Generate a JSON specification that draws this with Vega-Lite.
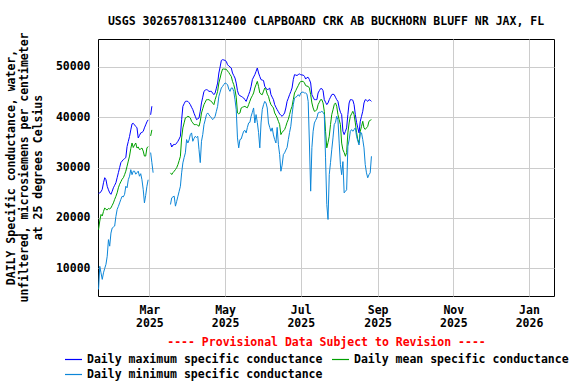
{
  "$schema": "https://vega.github.io/schema/vega-lite/v6.json",
  "width": 456,
  "height": 257,
  "autosize": "none",
  "padding": {"left": 98, "top": 39, "right": 22, "bottom": 88},
  "background": "white",
  "title": {
    "text": "USGS 302657081312400 CLAPBOARD CRK AB BUCKHORN BLUFF NR JAX, FL",
    "font": "DejaVu Sans Mono",
    "fontSize": 11.5,
    "fontWeight": "bold",
    "color": "black",
    "anchor": "middle",
    "frame": "group",
    "baseline": "alphabetic",
    "offset": 15,
    "dy": 20
  },
  "config": {
    "view": {"stroke": "black", "strokeWidth": 1},
    "axis": {
      "grid": true,
      "gridColor": "#cccccc",
      "gridWidth": 1,
      "domain": false,
      "ticks": false,
      "labelFont": "DejaVu Sans Mono",
      "labelFontSize": 11.5,
      "labelFontWeight": "bold",
      "labelColor": "black",
      "titleFont": "DejaVu Sans Mono",
      "titleFontSize": 11.5,
      "titleFontWeight": "bold",
      "titleColor": "black"
    },
    "legend": {
      "labelFont": "DejaVu Sans Mono",
      "labelFontSize": 11.5,
      "labelFontWeight": "bold",
      "labelColor": "black"
    }
  },
  "data": {
    "values": [
      {"d":"2025-01-19","max":24900,"mean":17700,"min":5800},
      {"d":"2025-01-20","max":25000,"mean":19400,"min":10400},
      {"d":"2025-01-21","max":25200,"mean":20700,"min":9100},
      {"d":"2025-01-22","max":25700,"mean":20400,"min":7800},
      {"d":"2025-01-23","max":27000,"mean":21300,"min":9100},
      {"d":"2025-01-24","max":28000,"mean":22000,"min":10000},
      {"d":"2025-01-25","max":27600,"mean":21700,"min":10800},
      {"d":"2025-01-26","max":26300,"mean":21600,"min":12400},
      {"d":"2025-01-27","max":25600,"mean":21900,"min":15700},
      {"d":"2025-01-28","max":25000,"mean":21800,"min":14400},
      {"d":"2025-01-29","max":24700,"mean":22000,"min":17000},
      {"d":"2025-01-30","max":25300,"mean":22500,"min":18000},
      {"d":"2025-01-31","max":26000,"mean":23000,"min":18200},
      {"d":"2025-02-01","max":26500,"mean":23700,"min":18400},
      {"d":"2025-02-02","max":27000,"mean":24300,"min":20300},
      {"d":"2025-02-03","max":28000,"mean":25000,"min":21700},
      {"d":"2025-02-04","max":29000,"mean":26000,"min":22300},
      {"d":"2025-02-05","max":30000,"mean":26700,"min":23000},
      {"d":"2025-02-06","max":31000,"mean":27200,"min":23700},
      {"d":"2025-02-07","max":31300,"mean":27700,"min":24300},
      {"d":"2025-02-08","max":31600,"mean":28000,"min":24200},
      {"d":"2025-02-09","max":31800,"mean":28600,"min":24700},
      {"d":"2025-02-10","max":32000,"mean":29300,"min":26300},
      {"d":"2025-02-11","max":34200,"mean":30300,"min":26000},
      {"d":"2025-02-12","max":35200,"mean":31300,"min":27600},
      {"d":"2025-02-13","max":36200,"mean":32300,"min":28300},
      {"d":"2025-02-14","max":37500,"mean":33800,"min":29600},
      {"d":"2025-02-15","max":38700,"mean":34900,"min":28600},
      {"d":"2025-02-16","max":38800,"mean":34000,"min":29300},
      {"d":"2025-02-17","max":38500,"mean":34500,"min":29300},
      {"d":"2025-02-18","max":38200,"mean":34900,"min":28700},
      {"d":"2025-02-19","max":37900,"mean":33900,"min":29000},
      {"d":"2025-02-20","max":35900,"mean":34100,"min":29300},
      {"d":"2025-02-21","max":36400,"mean":33600,"min":28300},
      {"d":"2025-02-22","max":36900,"mean":33700,"min":28800},
      {"d":"2025-02-23","max":37000,"mean":33900,"min":27600},
      {"d":"2025-02-24","max":37200,"mean":33300,"min":25700},
      {"d":"2025-02-25","max":37900,"mean":32300,"min":23000},
      {"d":"2025-02-26","max":38500,"mean":32300,"min":24500},
      {"d":"2025-02-27","max":39100,"mean":33900,"min":26300},
      {"d":"2025-02-28","max":39500,"mean":34200,"min":27600},
      {"d":"2025-03-01","max":null,"mean":null,"min":null},
      {"d":"2025-03-02","max":40500,"mean":36300,"min":33000},
      {"d":"2025-03-03","max":42200,"mean":37500,"min":31000},
      {"d":"2025-03-04","max":null,"mean":null,"min":29000},
      {"d":"2025-03-05","max":null,"mean":null,"min":null},
      {"d":"2025-03-08","max":36000,"mean":33150,"min":25650},
      {"d":"2025-03-09","max":null,"mean":null,"min":null},
      {"d":"2025-03-18","max":34900,"mean":28970,"min":22680},
      {"d":"2025-03-19","max":34100,"mean":28630,"min":24000},
      {"d":"2025-03-20","max":34500,"mean":29000,"min":24200},
      {"d":"2025-03-21","max":34600,"mean":29300,"min":24330},
      {"d":"2025-03-22","max":34600,"mean":29620,"min":22350},
      {"d":"2025-03-23","max":34900,"mean":30000,"min":23300},
      {"d":"2025-03-24","max":35240,"mean":30610,"min":24330},
      {"d":"2025-03-25","max":35700,"mean":31400,"min":25300},
      {"d":"2025-03-26","max":36230,"mean":32260,"min":26310},
      {"d":"2025-03-27","max":39540,"mean":35910,"min":28970},
      {"d":"2025-03-28","max":42180,"mean":37900,"min":30950},
      {"d":"2025-03-29","max":42700,"mean":38900,"min":32000},
      {"d":"2025-03-30","max":43170,"mean":39880,"min":32940},
      {"d":"2025-03-31","max":43200,"mean":40000,"min":35580},
      {"d":"2025-04-01","max":43170,"mean":40200,"min":34900},
      {"d":"2025-04-02","max":42900,"mean":40100,"min":35500},
      {"d":"2025-04-03","max":42520,"mean":39880,"min":36570},
      {"d":"2025-04-04","max":42000,"mean":39210,"min":36900},
      {"d":"2025-04-05","max":41530,"mean":38900,"min":35240},
      {"d":"2025-04-06","max":40800,"mean":38550,"min":35800},
      {"d":"2025-04-07","max":40200,"mean":38550,"min":36230},
      {"d":"2025-04-08","max":39540,"mean":38550,"min":36000},
      {"d":"2025-04-09","max":39700,"mean":38400,"min":36230},
      {"d":"2025-04-10","max":39870,"mean":38220,"min":33590},
      {"d":"2025-04-11","max":41190,"mean":39210,"min":31000},
      {"d":"2025-04-12","max":42860,"mean":40870,"min":35240},
      {"d":"2025-04-13","max":44000,"mean":41700,"min":36570},
      {"d":"2025-04-14","max":45160,"mean":42520,"min":38550},
      {"d":"2025-04-15","max":45400,"mean":43000,"min":39500},
      {"d":"2025-04-16","max":45500,"mean":43510,"min":40540},
      {"d":"2025-04-17","max":45400,"mean":43510,"min":40870},
      {"d":"2025-04-18","max":45160,"mean":43510,"min":40500},
      {"d":"2025-04-19","max":45160,"mean":43300,"min":40200},
      {"d":"2025-04-20","max":45160,"mean":43180,"min":39900},
      {"d":"2025-04-21","max":44800,"mean":42800,"min":39540},
      {"d":"2025-04-22","max":44500,"mean":42520,"min":39800},
      {"d":"2025-04-23","max":44840,"mean":43510,"min":40200},
      {"d":"2025-04-24","max":45800,"mean":44300,"min":41200},
      {"d":"2025-04-25","max":46800,"mean":45160,"min":42180},
      {"d":"2025-04-26","max":48800,"mean":46830,"min":44170},
      {"d":"2025-04-27","max":50000,"mean":47800,"min":45000},
      {"d":"2025-04-28","max":51300,"mean":48810,"min":45830},
      {"d":"2025-04-29","max":51450,"mean":49600,"min":46150},
      {"d":"2025-04-30","max":51400,"mean":49600,"min":46500},
      {"d":"2025-05-01","max":51300,"mean":49550,"min":46830},
      {"d":"2025-05-02","max":51100,"mean":49550,"min":46700},
      {"d":"2025-05-03","max":50450,"mean":49200,"min":46500},
      {"d":"2025-05-04","max":50200,"mean":48900,"min":45600},
      {"d":"2025-05-05","max":50000,"mean":48500,"min":45160},
      {"d":"2025-05-06","max":49800,"mean":48140,"min":45830},
      {"d":"2025-05-07","max":48800,"mean":47140,"min":45830},
      {"d":"2025-05-08","max":48300,"mean":46500,"min":45160},
      {"d":"2025-05-09","max":47800,"mean":45500,"min":43500},
      {"d":"2025-05-10","max":46800,"mean":44000,"min":41530},
      {"d":"2025-05-11","max":45300,"mean":40870,"min":35910},
      {"d":"2025-05-12","max":44500,"mean":40700,"min":33930},
      {"d":"2025-05-13","max":44300,"mean":40870,"min":35580},
      {"d":"2025-05-14","max":44170,"mean":41860,"min":35700},
      {"d":"2025-05-15","max":44000,"mean":42000,"min":36500},
      {"d":"2025-05-16","max":43850,"mean":42100,"min":37230},
      {"d":"2025-05-17","max":43500,"mean":42180,"min":37400},
      {"d":"2025-05-18","max":43170,"mean":42000,"min":36900},
      {"d":"2025-05-19","max":43850,"mean":41900,"min":38000},
      {"d":"2025-05-20","max":44500,"mean":42520,"min":38880},
      {"d":"2025-05-21","max":45160,"mean":43200,"min":39000},
      {"d":"2025-05-22","max":46150,"mean":43850,"min":40200},
      {"d":"2025-05-23","max":47480,"mean":44300,"min":41000},
      {"d":"2025-05-24","max":48000,"mean":44840,"min":41860},
      {"d":"2025-05-25","max":48470,"mean":45830,"min":38880},
      {"d":"2025-05-26","max":49130,"mean":46500,"min":40540},
      {"d":"2025-05-27","max":49800,"mean":47140,"min":39000},
      {"d":"2025-05-28","max":48810,"mean":46150,"min":37000},
      {"d":"2025-05-29","max":48100,"mean":44840,"min":33930},
      {"d":"2025-05-30","max":47480,"mean":44600,"min":38880},
      {"d":"2025-05-31","max":47400,"mean":44500,"min":41530},
      {"d":"2025-06-01","max":47300,"mean":45200,"min":42500},
      {"d":"2025-06-02","max":46150,"mean":45830,"min":43170},
      {"d":"2025-06-03","max":45800,"mean":45500,"min":42850},
      {"d":"2025-06-04","max":45500,"mean":44600,"min":41860},
      {"d":"2025-06-05","max":45600,"mean":44170,"min":38880},
      {"d":"2025-06-06","max":45800,"mean":43170,"min":38000},
      {"d":"2025-06-07","max":44500,"mean":42520,"min":37230},
      {"d":"2025-06-08","max":44000,"mean":42200,"min":37900},
      {"d":"2025-06-09","max":43510,"mean":41860,"min":36500},
      {"d":"2025-06-10","max":42520,"mean":40870,"min":35580},
      {"d":"2025-06-11","max":42000,"mean":40400,"min":34900},
      {"d":"2025-06-12","max":41530,"mean":39880,"min":38000},
      {"d":"2025-06-13","max":41100,"mean":39200,"min":34570},
      {"d":"2025-06-14","max":40670,"mean":38550,"min":32600},
      {"d":"2025-06-15","max":40400,"mean":36570,"min":29290},
      {"d":"2025-06-16","max":40200,"mean":37000,"min":30500},
      {"d":"2025-06-17","max":40500,"mean":37300,"min":32600},
      {"d":"2025-06-18","max":40870,"mean":37560,"min":32940},
      {"d":"2025-06-19","max":41860,"mean":38220,"min":33500},
      {"d":"2025-06-20","max":43170,"mean":39000,"min":34000},
      {"d":"2025-06-21","max":43800,"mean":39600,"min":35580},
      {"d":"2025-06-22","max":44500,"mean":40540,"min":37000},
      {"d":"2025-06-23","max":45100,"mean":41500,"min":38220},
      {"d":"2025-06-24","max":45830,"mean":42180,"min":40540},
      {"d":"2025-06-25","max":47480,"mean":43510,"min":42520},
      {"d":"2025-06-26","max":48470,"mean":44840,"min":43850},
      {"d":"2025-06-27","max":48400,"mean":45300,"min":44000},
      {"d":"2025-06-28","max":48300,"mean":45830,"min":44170},
      {"d":"2025-06-29","max":48500,"mean":46300,"min":44500},
      {"d":"2025-06-30","max":48610,"mean":46830,"min":44170},
      {"d":"2025-07-01","max":48470,"mean":47140,"min":44830},
      {"d":"2025-07-02","max":48400,"mean":47140,"min":45000},
      {"d":"2025-07-03","max":48400,"mean":47140,"min":45000},
      {"d":"2025-07-04","max":48140,"mean":46830,"min":44840},
      {"d":"2025-07-05","max":47600,"mean":46300,"min":44830},
      {"d":"2025-07-06","max":47900,"mean":46200,"min":44600},
      {"d":"2025-07-07","max":47940,"mean":46150,"min":43170},
      {"d":"2025-07-08","max":47500,"mean":45800,"min":34900},
      {"d":"2025-07-09","max":46830,"mean":44500,"min":25330},
      {"d":"2025-07-10","max":44500,"mean":42860,"min":34000},
      {"d":"2025-07-11","max":44000,"mean":41860,"min":37230},
      {"d":"2025-07-12","max":43510,"mean":41190,"min":38880},
      {"d":"2025-07-13","max":43510,"mean":41300,"min":39400},
      {"d":"2025-07-14","max":43510,"mean":41500,"min":39880},
      {"d":"2025-07-15","max":44840,"mean":42520,"min":40870},
      {"d":"2025-07-16","max":45300,"mean":43000,"min":41000},
      {"d":"2025-07-17","max":45700,"mean":43510,"min":41000},
      {"d":"2025-07-18","max":45700,"mean":43510,"min":41190},
      {"d":"2025-07-19","max":45300,"mean":42860,"min":41000},
      {"d":"2025-07-20","max":43510,"mean":41190,"min":40540},
      {"d":"2025-07-21","max":43000,"mean":37230,"min":31950},
      {"d":"2025-07-22","max":42520,"mean":33930,"min":22680},
      {"d":"2025-07-23","max":42850,"mean":35000,"min":19710},
      {"d":"2025-07-24","max":43510,"mean":36230,"min":28630},
      {"d":"2025-07-25","max":44000,"mean":38550,"min":31000},
      {"d":"2025-07-26","max":44500,"mean":40540,"min":33550},
      {"d":"2025-07-27","max":44600,"mean":41500,"min":35910},
      {"d":"2025-07-28","max":44500,"mean":42520,"min":38550},
      {"d":"2025-07-29","max":44000,"mean":42860,"min":39000},
      {"d":"2025-07-30","max":43510,"mean":42200,"min":40200},
      {"d":"2025-07-31","max":43170,"mean":40540,"min":39500},
      {"d":"2025-08-01","max":41860,"mean":39500,"min":34880},
      {"d":"2025-08-02","max":41000,"mean":38550,"min":30610},
      {"d":"2025-08-03","max":40540,"mean":34880,"min":28600},
      {"d":"2025-08-04","max":37230,"mean":33550,"min":31200},
      {"d":"2025-08-05","max":36570,"mean":33000,"min":25000},
      {"d":"2025-08-06","max":37200,"mean":32260,"min":25300},
      {"d":"2025-08-07","max":37900,"mean":33000,"min":25600},
      {"d":"2025-08-08","max":40540,"mean":36900,"min":34250},
      {"d":"2025-08-09","max":42850,"mean":38880,"min":35500},
      {"d":"2025-08-10","max":43510,"mean":40200,"min":37230},
      {"d":"2025-08-11","max":43500,"mean":40700,"min":37560},
      {"d":"2025-08-12","max":43400,"mean":41190,"min":37230},
      {"d":"2025-08-13","max":42520,"mean":40540,"min":37560},
      {"d":"2025-08-14","max":40540,"mean":38880,"min":37900},
      {"d":"2025-08-15","max":39000,"mean":37000,"min":36230},
      {"d":"2025-08-16","max":37900,"mean":35580,"min":35300},
      {"d":"2025-08-17","max":36900,"mean":34880,"min":34500},
      {"d":"2025-08-18","max":39210,"mean":37230,"min":37000},
      {"d":"2025-08-19","max":40200,"mean":38200,"min":36900},
      {"d":"2025-08-20","max":41200,"mean":39210,"min":35580},
      {"d":"2025-08-21","max":42850,"mean":37900,"min":33930},
      {"d":"2025-08-22","max":43510,"mean":37600,"min":30610},
      {"d":"2025-08-23","max":43400,"mean":37900,"min":28970},
      {"d":"2025-08-24","max":43170,"mean":38200,"min":27990},
      {"d":"2025-08-25","max":43510,"mean":39210,"min":28600},
      {"d":"2025-08-26","max":43400,"mean":39400,"min":28970},
      {"d":"2025-08-27","max":43170,"mean":39540,"min":32260}
    ]
  },
  "transform": [
    {"fold": ["max", "mean", "min"], "as": ["series", "value"]}
  ],
  "mark": {"type": "line", "strokeWidth": 1, "invalid": "break-paths-filter-domains", "interpolate": "linear"},
  "encoding": {
    "x": {
      "field": "d",
      "type": "temporal",
      "scale": {
        "type": "utc",
        "domain": [
          {"year": 2025, "month": 1, "date": 18, "hours": 13, "minutes": 40, "utc": true},
          {"year": 2026, "month": 1, "date": 21, "hours": 4, "utc": true}
        ]
      },
      "axis": {
        "values": [
          {"year": 2025, "month": 3, "date": 1, "utc": true},
          {"year": 2025, "month": 5, "date": 1, "utc": true},
          {"year": 2025, "month": 7, "date": 1, "utc": true},
          {"year": 2025, "month": 9, "date": 1, "utc": true},
          {"year": 2025, "month": 11, "date": 1, "utc": true},
          {"year": 2026, "month": 1, "date": 1, "utc": true}
        ],
        "labelExpr": "[utcFormat(datum.value, '%b'), utcFormat(datum.value, '%Y')]",
        "labelAlign": "center",
        "labelBaseline": "top",
        "labelLineHeight": 13,
        "labelPadding": 8,
        "labelOverlap": false,
        "labelFlush": false,
        "title": "---- Provisional Data Subject to Revision ----",
        "titleColor": "red",
        "titleX": 228,
        "titleY": 46,
        "titleAlign": "center",
        "titleBaseline": "middle"
      }
    },
    "y": {
      "field": "value",
      "type": "quantitative",
      "scale": {"domain": [4500, 55560], "nice": false, "zero": false},
      "axis": {
        "values": [10000, 20000, 30000, 40000, 50000],
        "format": "d",
        "labelPadding": 8,
        "title": ["DAILY Specific conductance, water,", "unfiltered, microsiemens per centimeter", "at 25 degrees Celsius"],
        "titleAngle": -90,
        "titleAlign": "center",
        "titleBaseline": "top",
        "titleLineHeight": 13.5,
        "titleX": -93,
        "titleY": 128
      }
    },
    "color": {
      "field": "series",
      "type": "nominal",
      "scale": {"domain": ["max", "mean", "min"], "range": ["#0000ff", "#00a000", "#0c86d8"]},
      "legend": {
        "title": null,
        "orient": "none",
        "legendX": -34,
        "legendY": 311,
        "direction": "horizontal",
        "columns": 2,
        "columnPadding": 6,
        "rowPadding": 0,
        "symbolType": "stroke",
        "symbolSize": 289,
        "symbolStrokeWidth": 1.2,
        "labelOffset": 4,
        "labelLimit": 400,
        "labelExpr": "datum.label == 'max' ? 'Daily maximum specific conductance' : datum.label == 'mean' ? 'Daily mean specific conductance' : 'Daily minimum specific conductance'"
      }
    }
  }
}
